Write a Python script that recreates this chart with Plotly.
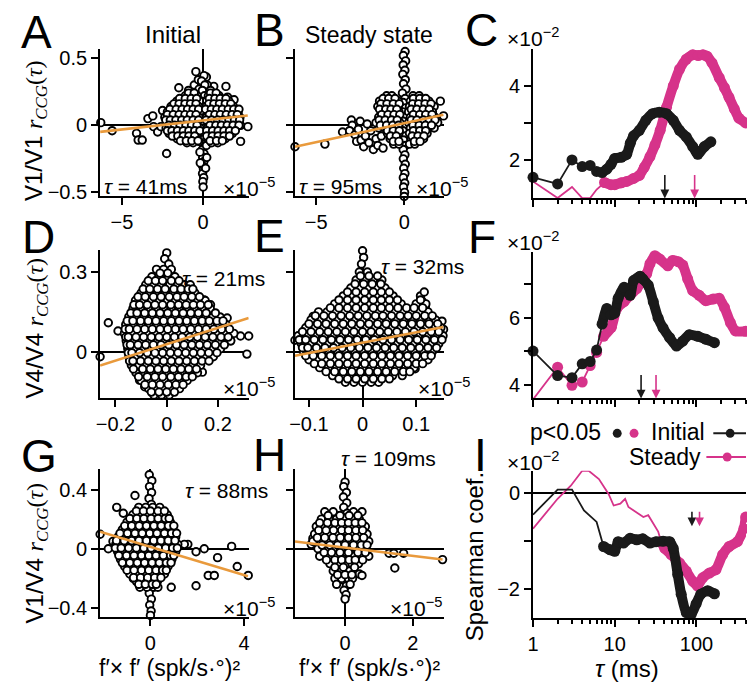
import math
import plotly.graph_objects as go

W, H = 747, 690
FONT = "Liberation Sans"
PINK = "#D6338A"
BLACK = "#1a1a1a"
ORANGE = "#E99A3C"

# ---------------- scatter data (x in units of 1e-5) ----------------
A_outliers = [(-6.3, 0.02), (-5.6, -0.04), (-4.1, -0.06), (-4.0, -0.11), (-3.75, -0.11), (-3.4, 0.05),
              (-3.1, 0.07), (-3.05, -0.01), (-2.8, -0.05), (-2.6, -0.01), (-2.5, 0.11), (-2.25, -0.21),
              (-1.5, 0.28), (-0.45, 0.40), (0.65, 0.29), (1.4, 0.29), (1.5, 0.21), (1.9, 0.19),
              (2.15, 0.1), (2.3, 0.0), (2.75, -0.01), (2.3, -0.12),
              (-0.9, 0.26), (-0.55, 0.3), (-0.25, 0.27), (0.25, 0.3), (0.45, 0.26), (-0.3, 0.34), (0.2, 0.36)]
A_rows = [
    (0.22, [-1.1, -0.72, -0.38, 0.32, 0.62, 0.98]),
    (0.18, [-1.62, -1.28, -0.92, -0.55, -0.22, 0.22, 0.55, 0.88, 1.22, 1.58]),
    (0.14, [-1.98, -1.66, -1.3, -0.95, -0.6, -0.28, 0.18, 0.48, 0.82, 1.18, 1.52, 1.86]),
    (0.10, [-2.2, -1.84, -1.48, -1.12, -0.78, -0.45, 0.32, 0.66, 1.02, 1.36, 1.7, 2.05]),
    (0.06, [-2.36, -2.0, -1.66, -1.3, -0.96, -0.62, -0.26, 0.2, 0.54, 0.9, 1.24, 1.6, 1.94, 2.26]),
    (0.02, [-2.18, -1.84, -1.5, -1.16, -0.8, -0.44, 0.36, 0.7, 1.06, 1.4, 1.76, 2.1]),
    (-0.02, [-2.28, -1.94, -1.6, -1.24, -0.9, -0.56, -0.2, 0.26, 0.6, 0.94, 1.3, 1.64, 2.0]),
    (-0.06, [-2.1, -1.76, -1.4, -1.06, -0.7, -0.36, 0.4, 0.76, 1.1, 1.46, 1.8]),
    (-0.10, [-1.6, -1.22, -0.86, -0.5, 0.3, 0.66, 1.0, 1.36]),
    (-0.13, [-1.0, -0.62, 0.52, 0.9]),
    (0.24, [-0.9, -0.55, 0.45, 0.8]),
    (0.20, [-1.45, -1.1, -0.74, -0.4, 0.38, 0.72, 1.05, 1.4]),
    (0.16, [-1.8, -1.48, -1.12, -0.78, -0.44, 0.35, 0.66, 1.0, 1.36, 1.7]),
    (0.12, [-2.05, -1.66, -1.3, -0.96, -0.62, -0.28, 0.15, 0.5, 0.84, 1.18, 1.54, 1.88, 2.2]),
    (0.08, [-2.2, -1.84, -1.48, -1.12, -0.78, -0.44, 0.38, 0.72, 1.06, 1.42, 1.78, 2.1]),
    (0.04, [-2.3, -2.02, -1.68, -1.32, -0.98, -0.62, -0.28, 0.18, 0.52, 0.88, 1.22, 1.58, 1.92, 2.24]),
    (0.00, [-2.12, -1.76, -1.42, -1.06, -0.72, -0.38, 0.42, 0.78, 1.12, 1.48, 1.84, 2.2]),
    (-0.04, [-2.2, -1.92, -1.58, -1.22, -0.88, -0.52, -0.2, 0.22, 0.58, 0.92, 1.28, 1.62, 1.98]),
    (-0.08, [-1.9, -1.56, -1.22, -0.88, -0.52, 0.22, 0.56, 0.92, 1.28, 1.62]),
    (-0.115, [-1.4, -1.04, -0.7, -0.32, 0.42, 0.82, 1.18]),
]
A_column = [(0.05, 0.37), (-0.1, 0.33), (0.1, 0.3), (-0.05, 0.26), (0.08, 0.22), (-0.08, 0.18), (0.05, 0.14),
            (-0.1, 0.1), (0.1, 0.06), (-0.05, 0.02), (0.06, -0.02), (-0.08, -0.06), (0.05, -0.1), (0.0, -0.14),
            (-0.05, -0.18), (0.05, -0.21), (-0.03, -0.24), (0.04, -0.27), (-0.05, -0.3), (0.02, -0.33),
            (-0.04, -0.36), (0.03, -0.39), (-0.02, -0.42), (0.0, -0.46), (-0.2, -0.2), (0.2, -0.15),
            (-0.18, -0.28), (0.15, -0.32), (-0.25, -0.12), (0.22, -0.24)]

B_outliers = [(-6.2, -0.16), (-4.5, -0.14), (-3.5, -0.05), (2.05, 0.18), (2.23, 0.07),
              (-3.0, 0.04), (-2.95, 0.0), (-3.1, -0.04), (-2.8, -0.07), (-2.6, -0.03), (-2.7, -0.12),
              (-2.45, -0.11), (-2.3, -0.16), (-2.2, -0.08), (-2.0, -0.13), (-1.9, -0.04), (-1.75, -0.18),
              (-1.6, -0.1), (-1.5, -0.15), (-1.45, -0.02), (-1.3, -0.08), (-1.2, -0.17), (-2.5, 0.03), (-2.1, 0.01)]
B_rows = [
    (0.22, [-1.0, -0.7, 0.5, 0.85]),
    (0.18, [-1.4, -1.05, -0.7, -0.35, 0.35, 0.7, 1.05, 1.4]),
    (0.14, [-1.5, -1.15, -0.8, -0.45, 0.3, 0.65, 1.0, 1.35, 1.7]),
    (0.10, [-1.3, -0.95, -0.6, -0.3, 0.25, 0.55, 0.9, 1.25, 1.6]),
    (0.06, [-1.45, -1.1, -0.75, -0.4, 0.35, 0.7, 1.05, 1.4, 1.75]),
    (0.02, [-1.6, -1.25, -0.9, -0.55, -0.25, 0.25, 0.55, 0.9, 1.25, 1.6, 1.9]),
    (-0.02, [-1.1, -0.8, -0.45, 0.35, 0.7, 1.05, 1.4, 1.7]),
    (-0.06, [-0.95, -0.6, -0.3, 0.3, 0.6, 0.95, 1.3]),
    (-0.10, [-0.8, -0.45, 0.4, 0.75, 1.1]),
    (-0.14, [-0.6, -0.3, 0.3, 0.6]),
    (0.20, [-1.2, -0.88, -0.52, 0.52, 0.88, 1.22]),
    (0.16, [-1.32, -0.98, -0.62, -0.28, 0.48, 0.82, 1.18, 1.52]),
    (0.12, [-1.4, -1.05, -0.75, -0.42, 0.4, 0.72, 1.08, 1.42]),
    (0.08, [-1.28, -0.92, -0.58, -0.25, 0.52, 0.88, 1.22, 1.58]),
    (0.04, [-1.42, -1.08, -0.72, -0.4, 0.4, 0.72, 1.08, 1.42, 1.75]),
    (0.00, [-1.35, -1.0, -0.65, -0.32, 0.5, 0.85, 1.2, 1.55]),
    (-0.04, [-0.95, -0.62, -0.28, 0.52, 0.88, 1.22]),
    (-0.08, [-0.78, -0.45, 0.45, 0.78, 1.12]),
    (-0.12, [-0.62, -0.3, 0.58, 0.9]),
]
B_column = [(0.05, 0.55), (-0.05, 0.52), (0.08, 0.48), (-0.06, 0.45), (0.04, 0.41), (-0.08, 0.38), (0.06, 0.34),
            (-0.04, 0.31), (0.1, 0.27), (-0.1, 0.24), (0.05, 0.2), (-0.06, 0.17), (0.08, 0.13), (-0.08, 0.1),
            (0.04, 0.06), (-0.05, 0.03), (0.06, -0.01), (-0.07, -0.04), (0.05, -0.08), (-0.04, -0.11),
            (0.07, -0.15), (-0.06, -0.18), (0.04, -0.22), (-0.05, -0.25), (0.06, -0.29), (-0.03, -0.32),
            (0.04, -0.36), (-0.05, -0.39), (0.03, -0.43), (-0.04, -0.46), (0.02, -0.5), (0.0, -0.53)]

D_outliers = [(-0.26, -0.019), (-0.228, 0.109), (-0.19, 0.078), (-0.119, 0.183), (-0.106, 0.167),
              (-0.112, 0.15), (0.249, 0.041), (0.288, 0.059), (0.32, 0.059), (0.313, -0.009), (0.236, 0.127),
              (0.217, 0.072), (0.146, 0.195), (0.171, 0.177), (0.107, 0.214), (0.094, 0.232), (0.139, -0.077),
              (-0.106, -0.107), (-0.086, -0.132), (0.0, 0.372), (-0.008, 0.35), (0.008, 0.33)]
D_rows = [
    (0.31, [-0.04, -0.012, 0.018]),
    (0.282, [-0.058, -0.03, 0.004, 0.032]),
    (0.252, [-0.082, -0.052, -0.022, 0.012, 0.042, 0.07, 0.092]),
    (0.221, [-0.1, -0.068, -0.038, -0.008, 0.024, 0.054, 0.082, 0.11]),
    (0.193, [-0.122, -0.092, -0.06, -0.03, 0.002, 0.032, 0.062, 0.09, 0.118, 0.15]),
    (0.162, [-0.132, -0.102, -0.072, -0.042, -0.012, 0.018, 0.048, 0.078, 0.108, 0.138, 0.17]),
    (0.131, [-0.148, -0.118, -0.088, -0.058, -0.028, 0.002, 0.032, 0.062, 0.092, 0.122, 0.152, 0.18, 0.208]),
    (0.102, [-0.16, -0.13, -0.1, -0.07, -0.04, -0.01, 0.02, 0.05, 0.08, 0.11, 0.14, 0.17, 0.2, 0.232]),
    (0.069, [-0.165, -0.135, -0.105, -0.075, -0.045, -0.015, 0.015, 0.045, 0.075, 0.105, 0.135, 0.165, 0.195, 0.226, 0.262]),
    (0.041, [-0.158, -0.128, -0.098, -0.068, -0.038, -0.008, 0.022, 0.052, 0.082, 0.112, 0.142, 0.172, 0.204, 0.25]),
    (0.011, [-0.152, -0.122, -0.092, -0.062, -0.032, -0.002, 0.028, 0.058, 0.088, 0.118, 0.148, 0.178, 0.21]),
    (-0.019, [-0.148, -0.118, -0.088, -0.058, -0.028, 0.002, 0.032, 0.062, 0.092, 0.122, 0.152, 0.182]),
    (-0.051, [-0.138, -0.108, -0.078, -0.048, -0.018, 0.012, 0.042, 0.072, 0.102, 0.132]),
    (-0.079, [-0.12, -0.09, -0.06, -0.03, 0.0, 0.03, 0.06, 0.09, 0.12]),
    (-0.108, [-0.1, -0.07, -0.04, -0.01, 0.02, 0.05, 0.08]),
    (-0.139, [-0.07, -0.04, -0.01, 0.02, 0.05]),
    (-0.163, [-0.05, -0.02, 0.01]),
    (0.296, [-0.026, 0.004]),
    (0.267, [-0.072, -0.044, -0.016, 0.018, 0.048]),
    (0.236, [-0.092, -0.066, -0.036, -0.006, 0.028, 0.056, 0.084, 0.102]),
    (0.207, [-0.112, -0.084, -0.052, -0.022, 0.01, 0.04, 0.068, 0.098, 0.128]),
    (0.177, [-0.128, -0.106, -0.076, -0.046, -0.016, 0.016, 0.046, 0.076, 0.104, 0.132, 0.162]),
    (0.146, [-0.14, -0.116, -0.086, -0.056, -0.026, 0.004, 0.034, 0.064, 0.094, 0.124, 0.154, 0.19]),
    (0.116, [-0.154, -0.132, -0.102, -0.072, -0.042, -0.012, 0.018, 0.048, 0.078, 0.108, 0.138, 0.166, 0.196, 0.22]),
    (0.085, [-0.162, -0.146, -0.116, -0.086, -0.056, -0.026, 0.004, 0.034, 0.064, 0.094, 0.124, 0.154, 0.184, 0.214, 0.245]),
    (0.055, [-0.16, -0.15, -0.12, -0.09, -0.06, -0.03, 0.0, 0.03, 0.06, 0.09, 0.12, 0.15, 0.18, 0.212, 0.24]),
    (0.026, [-0.155, -0.142, -0.112, -0.082, -0.052, -0.022, 0.008, 0.038, 0.068, 0.098, 0.128, 0.158, 0.19, 0.225]),
    (-0.004, [-0.15, -0.136, -0.106, -0.076, -0.046, -0.016, 0.014, 0.044, 0.074, 0.104, 0.134, 0.164, 0.196]),
    (-0.035, [-0.145, -0.132, -0.102, -0.072, -0.042, -0.012, 0.018, 0.048, 0.078, 0.108, 0.138, 0.165]),
    (-0.065, [-0.13, -0.094, -0.064, -0.034, -0.004, 0.026, 0.056, 0.086, 0.116]),
    (-0.094, [-0.11, -0.076, -0.046, -0.016, 0.016, 0.046, 0.076, 0.1]),
    (-0.124, [-0.085, -0.056, -0.026, 0.006, 0.036, 0.064]),
    (-0.152, [-0.06, -0.03, 0.0, 0.03]),
]

E_outliers = [(-0.126, 0.043), (-0.092, 0.133), (-0.108, 0.072), (0.034, 0.257), (0.111, 0.191),
              (0.117, 0.17), (0.105, 0.164), (0.148, 0.115), (0.151, 0.084), (0.098, -0.064), (0.132, 0.028),
              (0.0, 0.38), (0.002, 0.355), (-0.002, 0.33)]
E_rows = [
    (0.30, [-0.006, 0.009]),
    (0.27, [-0.012, 0.004, 0.02, 0.036]),
    (0.24, [-0.022, -0.006, 0.01, 0.026, 0.042]),
    (0.21, [-0.036, -0.02, -0.004, 0.012, 0.028, 0.043, 0.057, 0.108]),
    (0.18, [-0.052, -0.036, -0.02, -0.004, 0.012, 0.027, 0.042, 0.058, 0.072, 0.1, 0.118]),
    (0.15, [-0.082, -0.066, -0.05, -0.034, -0.018, -0.002, 0.013, 0.028, 0.044, 0.059, 0.074, 0.09, 0.105, 0.122]),
    (0.12, [-0.096, -0.08, -0.064, -0.048, -0.032, -0.016, 0.0, 0.016, 0.031, 0.046, 0.062, 0.077, 0.093, 0.108, 0.124, 0.136]),
    (0.09, [-0.106, -0.09, -0.074, -0.058, -0.042, -0.026, -0.01, 0.006, 0.022, 0.038, 0.054, 0.07, 0.086, 0.102, 0.118, 0.132, 0.146]),
    (0.06, [-0.12, -0.104, -0.088, -0.072, -0.056, -0.04, -0.024, -0.008, 0.008, 0.024, 0.04, 0.056, 0.072, 0.088, 0.104, 0.12, 0.136, 0.15]),
    (0.03, [-0.114, -0.098, -0.082, -0.066, -0.05, -0.034, -0.018, -0.002, 0.014, 0.03, 0.046, 0.062, 0.078, 0.094, 0.11, 0.126, 0.142]),
    (0.00, [-0.11, -0.094, -0.078, -0.062, -0.046, -0.03, -0.014, 0.002, 0.018, 0.034, 0.05, 0.066, 0.082, 0.098, 0.114, 0.13]),
    (-0.03, [-0.1, -0.084, -0.068, -0.052, -0.036, -0.02, -0.004, 0.012, 0.028, 0.044, 0.06, 0.076, 0.092, 0.108, 0.122]),
    (-0.06, [-0.08, -0.064, -0.048, -0.032, -0.016, 0.0, 0.016, 0.032, 0.048, 0.064, 0.08, 0.096]),
    (-0.09, [-0.056, -0.04, -0.024, -0.008, 0.008, 0.024, 0.04, 0.056, 0.074]),
    (-0.115, [-0.032, -0.016, 0.0, 0.016, 0.03]),
    (0.285, [-0.004, 0.012, 0.028]),
    (0.255, [-0.014, 0.002, 0.018, 0.034]),
    (0.225, [-0.028, -0.012, 0.004, 0.02, 0.035, 0.05, 0.115]),
    (0.195, [-0.044, -0.028, -0.012, 0.004, 0.02, 0.035, 0.05, 0.065, 0.108]),
    (0.165, [-0.06, -0.044, -0.028, -0.012, 0.004, 0.02, 0.035, 0.05, 0.066, 0.082, 0.096, 0.112]),
    (0.135, [-0.088, -0.072, -0.056, -0.04, -0.024, -0.008, 0.008, 0.024, 0.038, 0.054, 0.07, 0.085, 0.1, 0.116, 0.13]),
    (0.105, [-0.1, -0.084, -0.068, -0.052, -0.036, -0.02, -0.004, 0.012, 0.028, 0.044, 0.06, 0.076, 0.092, 0.108, 0.124, 0.14]),
    (0.075, [-0.112, -0.096, -0.08, -0.064, -0.048, -0.032, -0.016, 0.0, 0.016, 0.032, 0.048, 0.064, 0.08, 0.096, 0.112, 0.128, 0.142]),
    (0.045, [-0.118, -0.106, -0.09, -0.074, -0.058, -0.042, -0.026, -0.01, 0.006, 0.022, 0.038, 0.054, 0.07, 0.086, 0.102, 0.118, 0.134, 0.148]),
    (0.015, [-0.112, -0.102, -0.086, -0.07, -0.054, -0.038, -0.022, -0.006, 0.01, 0.026, 0.042, 0.058, 0.074, 0.09, 0.106, 0.122, 0.138]),
    (-0.015, [-0.106, -0.092, -0.076, -0.06, -0.044, -0.028, -0.012, 0.004, 0.02, 0.036, 0.052, 0.068, 0.084, 0.1, 0.116, 0.128]),
    (-0.045, [-0.09, -0.076, -0.06, -0.044, -0.028, -0.012, 0.004, 0.02, 0.036, 0.052, 0.068, 0.084, 0.1, 0.112]),
    (-0.075, [-0.068, -0.052, -0.036, -0.02, -0.004, 0.012, 0.028, 0.044, 0.06, 0.076, 0.088]),
    (-0.102, [-0.044, -0.028, -0.012, 0.004, 0.02, 0.036, 0.05]),
]

G_outliers = [(-2.15, 0.098), (-1.44, 0.28), (-1.16, 0.24), (-0.66, 0.36), (1.6, 0.03), (1.45, 0.03),
              (1.95, -0.02), (2.3, 0.0), (2.87, -0.06), (2.47, -0.18), (2.73, -0.18), (1.95, -0.25),
              (0.89, -0.26), (3.47, 0.016), (3.71, -0.12), (4.18, -0.18), (-0.73, -0.2), (-1.6, 0.05), (-1.8, 0.0)]
G_rows = [
    (0.28, [-0.5, -0.2, 0.1, 0.4]),
    (0.23, [-0.75, -0.45, -0.14, 0.17, 0.48, 0.72]),
    (0.18, [-1.0, -0.7, -0.38, -0.07, 0.24, 0.55, 0.85]),
    (0.13, [-1.2, -0.9, -0.58, -0.27, 0.05, 0.36, 0.67, 0.95]),
    (0.08, [-1.38, -1.07, -0.75, -0.43, -0.12, 0.2, 0.51, 0.82, 1.08]),
    (0.03, [-1.48, -1.17, -0.86, -0.55, -0.23, 0.08, 0.39, 0.7, 1.0, 1.17]),
    (-0.02, [-1.4, -1.08, -0.76, -0.44, -0.13, 0.18, 0.5, 0.8, 1.08]),
    (-0.07, [-1.28, -0.97, -0.65, -0.34, -0.02, 0.29, 0.6, 0.92]),
    (-0.12, [-1.1, -0.8, -0.48, -0.17, 0.14, 0.45, 0.75]),
    (-0.17, [-0.88, -0.56, -0.25, 0.07, 0.38, 0.6]),
    (-0.22, [-0.6, -0.3, 0.0, 0.3]),
    (-0.26, [-0.45, -0.15, 0.15, 0.32]),
    (0.255, [-0.6, -0.3, 0.0, 0.32, 0.6]),
    (0.205, [-0.88, -0.58, -0.28, 0.03, 0.33, 0.63, 0.8]),
    (0.155, [-1.1, -0.8, -0.48, -0.17, 0.15, 0.46, 0.77, 1.0]),
    (0.105, [-1.3, -0.98, -0.66, -0.35, -0.03, 0.28, 0.6, 0.9, 1.12]),
    (0.055, [-1.45, -1.12, -0.8, -0.49, -0.17, 0.14, 0.45, 0.76, 1.05]),
    (0.005, [-1.5, -1.25, -0.93, -0.6, -0.28, 0.03, 0.34, 0.65, 0.95, 1.15]),
    (-0.045, [-1.35, -1.02, -0.7, -0.38, -0.07, 0.24, 0.55, 0.86, 1.0]),
    (-0.095, [-1.2, -0.88, -0.56, -0.25, 0.07, 0.38, 0.68, 0.88]),
    (-0.145, [-1.0, -0.7, -0.38, -0.07, 0.24, 0.52, 0.68]),
    (-0.195, [-0.72, -0.42, -0.12, 0.18, 0.45]),
    (-0.24, [-0.5, -0.22, 0.08, 0.25]),
]
G_column = [(0.02, 0.54), (-0.05, 0.5), (0.06, 0.46), (-0.04, 0.42), (0.05, 0.38), (-0.06, 0.34), (0.04, 0.3),
            (-0.05, 0.26), (0.06, 0.22), (-0.04, 0.15), (0.05, 0.1), (-0.05, 0.05), (0.04, -0.05),
            (-0.06, -0.1), (0.05, -0.15), (-0.04, -0.2), (0.05, -0.26), (-0.05, -0.3), (0.04, -0.34),
            (-0.03, -0.38), (0.03, -0.42), (0.0, -0.45)]

H_outliers = [(-1.5, 0.16), (1.3, -0.03), (1.44, -0.03), (1.73, -0.03), (1.47, -0.13), (2.88, -0.073),
              (0.42, -0.17), (0.5, -0.18), (-0.36, 0.24), (-0.95, 0.07), (-1.0, 0.03)]
H_rows = [
    (0.25, [-0.6, -0.35, 0.25, 0.5]),
    (0.20, [-0.7, -0.48, -0.25, 0.2, 0.42]),
    (0.15, [-0.85, -0.62, -0.4, -0.18, 0.18, 0.4, 0.6]),
    (0.10, [-0.9, -0.68, -0.45, -0.22, 0.2, 0.42, 0.65]),
    (0.05, [-0.95, -0.72, -0.5, -0.28, 0.22, 0.45, 0.7]),
    (0.00, [-0.8, -0.58, -0.35, -0.12, 0.12, 0.35, 0.58]),
    (-0.05, [-0.75, -0.5, -0.25, 0.25, 0.5, 0.7]),
    (-0.10, [-0.45, -0.22, 0.2, 0.4]),
    (-0.15, [-0.35, -0.12, 0.12]),
    (-0.20, [-0.3, -0.1, 0.1, 0.22]),
    (-0.24, [-0.25, 0.15]),
    (0.225, [-0.5, -0.15, 0.12, 0.38]),
    (0.175, [-0.75, -0.52, -0.3, -0.1, 0.1, 0.3, 0.5]),
    (0.125, [-0.78, -0.56, -0.34, -0.1, 0.1, 0.32, 0.52]),
    (0.075, [-0.82, -0.6, -0.36, -0.14, 0.1, 0.32, 0.55]),
    (0.025, [-0.68, -0.45, -0.22, 0.0, 0.25, 0.48, 0.65]),
    (-0.025, [-0.62, -0.4, -0.15, 0.1, 0.38, 0.6]),
    (-0.075, [-0.55, -0.3, -0.1, 0.12, 0.3, 0.52]),
    (-0.125, [-0.3, -0.05, 0.28]),
    (-0.175, [-0.22, 0.0, 0.2]),
]
H_column = [(0.0, 0.45), (-0.04, 0.42), (0.04, 0.38), (-0.05, 0.35), (0.05, 0.31), (-0.04, 0.28), (0.06, 0.24),
            (-0.05, 0.21), (0.04, 0.17), (-0.06, 0.14), (0.05, 0.1), (-0.04, 0.07), (0.06, 0.03), (-0.05, 0.0),
            (0.04, -0.04), (-0.06, -0.07), (0.05, -0.11), (-0.04, -0.14), (0.05, -0.18), (-0.05, -0.21),
            (0.04, -0.25), (-0.03, -0.28), (0.03, -0.31), (0.0, -0.34)]

# regression lines (x endpoints, y endpoints)
FIT_A = ([-6.34, 2.74], [-0.049, 0.073])
FIT_B = ([-6.2, 2.23], [-0.16, 0.079])
FIT_D = ([-0.26, 0.32], [-0.052, 0.127])
FIT_E = ([-0.126, 0.151], [-0.015, 0.093])
FIT_G = ([-2.15, 4.17], [0.115, -0.185])
FIT_H = ([-1.48, 2.88], [0.049, -0.073])

TAU_LABELS = {"A": "41", "B": "95", "D": "21", "E": "32", "G": "88", "H": "109"}

# ---------------- tau curves (values x1e-2) ----------------
C_init_tau = [1, 2, 3, 4, 5, 6, 7, 8, 9, 10, 12, 14, 15.5, 17, 20, 24, 29, 35, 43, 52, 62, 75, 90, 104, 125, 150]
C_init_val = [1.53, 1.35, 2.0, 1.82, 1.85, 1.69, 1.66, 1.75, 1.88, 2.04, 2.07, 2.15, 2.45, 2.65, 2.8, 3.07,
              3.25, 3.29, 3.25, 3.07, 2.8, 2.62, 2.36, 2.15, 2.36, 2.49]
C_init_sig = [1] * 26
C_st_tau = [1, 2, 3, 4, 5, 6, 7.5, 9, 10, 12, 14, 17, 20, 23, 27, 31, 36, 43, 52, 62, 75, 90, 105, 120, 135,
            155, 190, 220, 250, 290, 330, 400]
C_st_val = [1.42, 0.97, 1.27, 0.97, 0.97, 1.2, 1.39, 1.33, 1.33, 1.38, 1.42, 1.5, 1.58, 1.8, 2.09, 2.4, 2.8,
            3.42, 4.0, 4.45, 4.72, 4.84, 4.82, 4.84, 4.8, 4.62, 4.22, 3.95, 3.69, 3.38, 3.13, 3.0]
C_st_sig = [0, 0, 0, 0, 0, 0] + [1] * 26

F_init_tau = [1, 2, 3, 4, 5, 6, 7, 8, 9, 10, 11, 13, 15.4, 17, 20.4, 22, 25.7, 29.6, 34, 39, 47, 57, 68, 82,
              104, 131, 166]
F_init_val = [5.0, 4.27, 4.21, 4.62, 4.69, 5.03, 5.8, 6.27, 6.08, 6.13, 6.57, 6.9, 6.66, 7.1, 7.23, 7.15, 6.96,
              6.47, 5.98, 5.69, 5.4, 5.15, 5.3, 5.49, 5.44, 5.35, 5.25]
F_init_sig = [1] * 27
F_st_tau = [1, 2, 3, 4, 5, 6, 7.3, 9.1, 10.6, 13, 15.4, 18.6, 21, 24.6, 27, 31, 35.6, 44.6, 51, 60, 68, 78, 90,
            108, 130, 160, 190, 220, 260, 300, 400]
F_st_val = [3.56, 4.52, 3.98, 4.08, 4.57, 4.96, 5.44, 5.71, 6.27, 6.47, 6.66, 6.86, 7.05, 7.3, 7.6, 7.84,
            7.74, 7.54, 7.7, 7.66, 7.56, 7.15, 6.8, 6.66, 6.5, 6.55, 6.57, 6.3, 5.85, 5.6, 5.59]
F_st_sig = [1] * 31

I_init_tau = [1, 2, 3, 3.5, 4.2, 6, 7.3, 8.8, 10, 11, 12.8, 15.4, 18.6, 22, 27, 32, 39, 47, 52, 59, 65, 75, 86,
              99, 113, 137, 166]
I_init_val = [-0.45, 0.07, 0.07, -0.12, -0.36, -0.6, -1.11, -1.18, -1.21, -1.01, -1.04, -0.94, -0.97, -0.95,
              -1.04, -1.01, -1.0, -1.01, -1.15, -1.69, -2.1, -2.48, -2.52, -2.3, -2.1, -2.03, -2.09]
I_init_sig = [0] * 6 + [1] * 21
I_st_tau = [1, 2, 2.9, 4, 4.8, 6.4, 8.4, 9.7, 11.7, 13.4, 14.7, 18.6, 22.4, 25.7, 29.5, 34, 37, 41, 49, 62, 75,
            90, 103, 119, 144, 173, 209, 251, 317, 380, 400]
I_st_val = [-0.74, -0.12, 0.15, 0.46, 0.46, 0.29, -0.02, -0.26, -0.22, -0.12, -0.29, -0.4, -0.5, -0.46, -0.63,
            -0.8, -1.01, -1.15, -1.28, -1.45, -1.62, -1.83, -1.93, -1.76, -1.66, -1.59, -1.28, -1.11, -1.01,
            -0.74, -0.5]
I_st_sig = [0] * 16 + [1] * 15

ARROWS = {"C": (41, 95), "F": (21, 32), "I": (88, 109)}

# ---------------- layout geometry (pixels) ----------------
PANELS = {
    "A": dict(n=1, xd=(95, 245), yd=(48, 197), xr=(-6.34, 2.8), yr=(-0.53, 0.566),
              xt=[-5, 0], xtt=["−5", "0"], yt=[-0.5, 0, 0.5], ytt=["−0.5", "0", "0.5"]),
    "B": dict(n=2, xd=(291.7, 442), yd=(48, 197), xr=(-6.2, 2.25), yr=(-0.53, 0.566),
              xt=[-5, 0], xtt=["−5", "0"], yt=[-0.5, 0, 0.5], ytt=None),
    "D": dict(n=4, xd=(95, 245), yd=(251, 401.7), xr=(-0.26, 0.32), yr=(-0.176, 0.384),
              xt=[-0.2, 0, 0.2], xtt=["−0.2", "0", "0.2"], yt=[0, 0.3], ytt=["0", "0.3"]),
    "E": dict(n=5, xd=(291.7, 441.7), yd=(251, 401.7), xr=(-0.126, 0.151), yr=(-0.176, 0.384),
              xt=[-0.1, 0, 0.1], xtt=["−0.1", "0", "0.1"], yt=[0, 0.3], ytt=None),
    "G": dict(n=7, xd=(95, 245), yd=(473.3, 623.3), xr=(-2.15, 4.2), yr=(-0.462, 0.538),
              xt=[0, 4], xtt=["0", "4"], yt=[-0.4, 0, 0.4], ytt=["−0.4", "0", "0.4"]),
    "H": dict(n=8, xd=(291.7, 441.7), yd=(473.3, 623.3), xr=(-1.48, 2.91), yr=(-0.462, 0.538),
              xt=[0, 2], xtt=["0", "2"], yt=[-0.4, 0, 0.4], ytt=None),
    "C": dict(n=3, xd=(532, 747), yd=(47.5, 199), yr=(0.96, 5.0),
              yt=[2, 4], ytt=["2", "4"], ymin=[3], xlab=False),
    "F": dict(n=6, xd=(532, 747), yd=(253.3, 401.7), yr=(3.59, 7.95),
              yt=[4, 6], ytt=["4", "6"], ymin=[5, 7], xlab=False),
    "I": dict(n=9, xd=(532, 747), yd=(475, 624), yr=(-2.59, 0.46),
              yt=[-2, 0], ytt=["−2", "0"], ymin=[-1], xlab=True),
}


def ax_names(n):
    return ("x" if n == 1 else f"x{n}"), ("y" if n == 1 else f"y{n}")


def lay_names(n):
    return ("xaxis" if n == 1 else f"xaxis{n}"), ("yaxis" if n == 1 else f"yaxis{n}")


fig = go.Figure()
common = dict(showline=True, linecolor="black", linewidth=2, ticks="outside", ticklen=7, tickwidth=2,
              tickcolor="black", showgrid=False, tickfont=dict(family=FONT, size=20, color="black"),
              mirror=False, fixedrange=True)
layout_axes = {}
for key, p in PANELS.items():
    xn, yn = ax_names(p["n"])
    lx, ly = lay_names(p["n"])
    xdom = [p["xd"][0] / W, p["xd"][1] / W]
    ydom = [1 - p["yd"][1] / H, 1 - p["yd"][0] / H]
    if key in ("C", "F", "I"):
        xa = dict(common, type="log", range=[0, (p["xd"][1] - p["xd"][0]) / 82.5],
                  domain=xdom, anchor=yn, tickmode="array", tickvals=[1, 10, 100],
                  ticktext=["1", "10", "100"], showticklabels=p["xlab"], zeroline=False,
                  minor=dict(tickmode="array",
                             tickvals=[2, 3, 4, 5, 6, 7, 8, 9, 20, 30, 40, 50, 60, 70, 80, 90, 200, 300, 400],
                             ticks="outside", ticklen=4, tickwidth=1.5, tickcolor="black"))
        ya = dict(common, range=list(p["yr"]), domain=ydom, anchor=xn, tickmode="array",
                  tickvals=p["yt"], ticktext=p["ytt"], zeroline=(key == "I"), zerolinecolor="black",
                  zerolinewidth=1.6,
                  minor=dict(tickmode="array", tickvals=p["ymin"], ticks="outside", ticklen=7, tickwidth=2,
                             tickcolor="black"))
    else:
        xa = dict(common, range=list(p["xr"]), domain=xdom, anchor=yn, tickmode="array",
                  tickvals=p["xt"], ticktext=p["xtt"], zeroline=True, zerolinecolor="black",
                  zerolinewidth=1.6)
        ya = dict(common, range=list(p["yr"]), domain=ydom, anchor=xn, tickmode="array",
                  tickvals=p["yt"], zeroline=True, zerolinecolor="black", zerolinewidth=1.6)
        if p["ytt"] is None:
            ya["showticklabels"] = False
        else:
            ya["ticktext"] = p["ytt"]
    layout_axes[lx] = xa
    layout_axes[ly] = ya


def flatten(outliers, rows, column=()):
    pts = list(outliers) + list(column)
    for y, xs in rows:
        pts += [(x, y) for x in xs]
    return [p[0] for p in pts], [p[1] for p in pts]


SCATTER = {
    "A": (flatten(A_outliers, A_rows, A_column), FIT_A),
    "B": (flatten(B_outliers, B_rows, B_column), FIT_B),
    "D": (flatten(D_outliers, D_rows), FIT_D),
    "E": (flatten(E_outliers, E_rows), FIT_E),
    "G": (flatten(G_outliers, G_rows, G_column), FIT_G),
    "H": (flatten(H_outliers, H_rows, H_column), FIT_H),
}
for key, ((xs, ys), fit) in SCATTER.items():
    xn, yn = ax_names(PANELS[key]["n"])
    fig.add_trace(go.Scatter(x=xs, y=ys, mode="markers", xaxis=xn, yaxis=yn, cliponaxis=False,
                             marker=dict(size=7.5, color="white", line=dict(color="black", width=1.9)),
                             showlegend=False, hoverinfo="skip"))
    fig.add_trace(go.Scatter(x=fit[0], y=fit[1], mode="lines", xaxis=xn, yaxis=yn,
                             line=dict(color=ORANGE, width=2.6), showlegend=False, hoverinfo="skip"))

CURVES = {
    "C": [(C_st_tau, C_st_val, C_st_sig, PINK), (C_init_tau, C_init_val, C_init_sig, BLACK)],
    "F": [(F_st_tau, F_st_val, F_st_sig, PINK), (F_init_tau, F_init_val, F_init_sig, BLACK)],
    "I": [(I_st_tau, I_st_val, I_st_sig, PINK), (I_init_tau, I_init_val, I_init_sig, BLACK)],
}
for key, series in CURVES.items():
    xn, yn = ax_names(PANELS[key]["n"])
    for tau, val, sig, col in series:
        fig.add_trace(go.Scatter(x=tau, y=val, mode="lines", xaxis=xn, yaxis=yn,
                                 line=dict(color=col, width=1.8), showlegend=False, hoverinfo="skip"))
        band = [v if (s and t >= 7) else None for t, v, s in zip(tau, val, sig)]
        fig.add_trace(go.Scatter(x=tau, y=band, mode="lines", xaxis=xn, yaxis=yn, connectgaps=False,
                                 line=dict(color=col, width=10, shape="spline", smoothing=0.6),
                                 showlegend=False, hoverinfo="skip"))
        dots = [v if s else None for v, s in zip(val, sig)]
        fig.add_trace(go.Scatter(x=tau, y=dots, mode="markers", xaxis=xn, yaxis=yn, cliponaxis=False,
                                 marker=dict(size=11, color=col), showlegend=False, hoverinfo="skip"))

# arrows marking the chosen tau
ARROW_GEOM = {"C": (0.96, 25), "F": (3.59, 25), "I": (-0.69, 16)}
for key, (t_init, t_st) in ARROWS.items():
    xn, yn = ax_names(PANELS[key]["n"])
    ytip, length = ARROW_GEOM[key]
    for t, col in ((t_init, BLACK), (t_st, PINK)):
        fig.add_annotation(x=math.log10(t), y=ytip, xref=xn, yref=yn, ax=0, ay=-length, text="",
                           showarrow=True, arrowhead=2, arrowsize=1.1, arrowwidth=1.6, arrowcolor=col,
                           standoff=0)


def txt(x, y, s, size, xanchor="center", angle=0, family=FONT):
    fig.add_annotation(x=x / W, y=1 - y / H, xref="paper", yref="paper", text=s, showarrow=False,
                       font=dict(size=size, color="black", family=family), xanchor=xanchor,
                       yanchor="middle", textangle=angle, borderpad=0)


# panel letters
for L, (x, y) in {"A": (31, 30), "B": (266, 28), "C": (480, 28), "D": (33, 238), "E": (266, 237),
                  "F": (480, 238), "G": (33, 460), "H": (266, 459), "I": (479, 459)}.items():
    txt(x, y, L, 46)

txt(169, 33, "Initial", 24)
txt(366, 33, "Steady state", 23)

RC = "<span style='font-family:Liberation Serif'><i>r</i><sub><i>CCG</i></sub>(<i>τ</i>)</span>"
txt(30, 130, "V1/V1 " + RC, 24, angle=-90)
txt(31, 330, "V4/V4 " + RC, 24, angle=-90)
txt(31, 558, "V1/V4 " + RC, 24, angle=-90)
txt(473, 562, "Spearman coef.", 24, angle=-90)
txt(627, 675, "<i>τ</i> (ms)", 24)
txt(165, 675, "f′× f′ (spk/s·°)²", 23)
txt(367, 675, "f′× f′ (spk/s·°)²", 23)

TAU_POS = {"A": (98, 187), "B": (295, 187), "D": (177, 280), "E": (378, 268), "G": (180, 495), "H": (337, 463)}
for key, (x, y) in TAU_POS.items():
    txt(x, y, "<i>τ</i> = " + TAU_LABELS[key] + "ms", 21, xanchor="left")

for x, y in [(218, 187), (413, 187), (218, 390), (415, 390), (218, 613), (387, 613)]:
    txt(x, y, "×10<sup>−5</sup>", 21, xanchor="left")
for y in [35, 242, 465]:
    txt(505, y, "×10<sup>−2</sup>", 21, xanchor="left")

# legend
txt(602, 436, "p<0.05", 23, xanchor="right")
txt(650, 436, "Initial", 23, xanchor="left")
txt(703, 461, "Steady", 23, xanchor="right")
shapes = []


def dot(cx, cy, d, col):
    shapes.append(dict(type="circle", xref="paper", yref="paper", x0=(cx - d / 2) / W, x1=(cx + d / 2) / W,
                       y0=1 - (cy + d / 2) / H, y1=1 - (cy - d / 2) / H, fillcolor=col, line=dict(width=0)))


def hline(x0, x1, y, col):
    shapes.append(dict(type="line", xref="paper", yref="paper", x0=x0 / W, x1=x1 / W, y0=1 - y / H,
                       y1=1 - y / H, line=dict(color=col, width=2)))


dot(617, 437, 9, BLACK)
dot(634, 437, 9, PINK)
hline(714, 747, 437, BLACK)
dot(731, 437, 9, BLACK)
hline(707, 747, 461, PINK)
dot(728, 461, 9, PINK)

fig.update_layout(width=W, height=H, margin=dict(l=0, r=0, t=0, b=0), paper_bgcolor="white",
                  plot_bgcolor="white", showlegend=False, font=dict(family=FONT, color="black"),
                  shapes=shapes, **layout_axes)
fig.write_html("out.html")
